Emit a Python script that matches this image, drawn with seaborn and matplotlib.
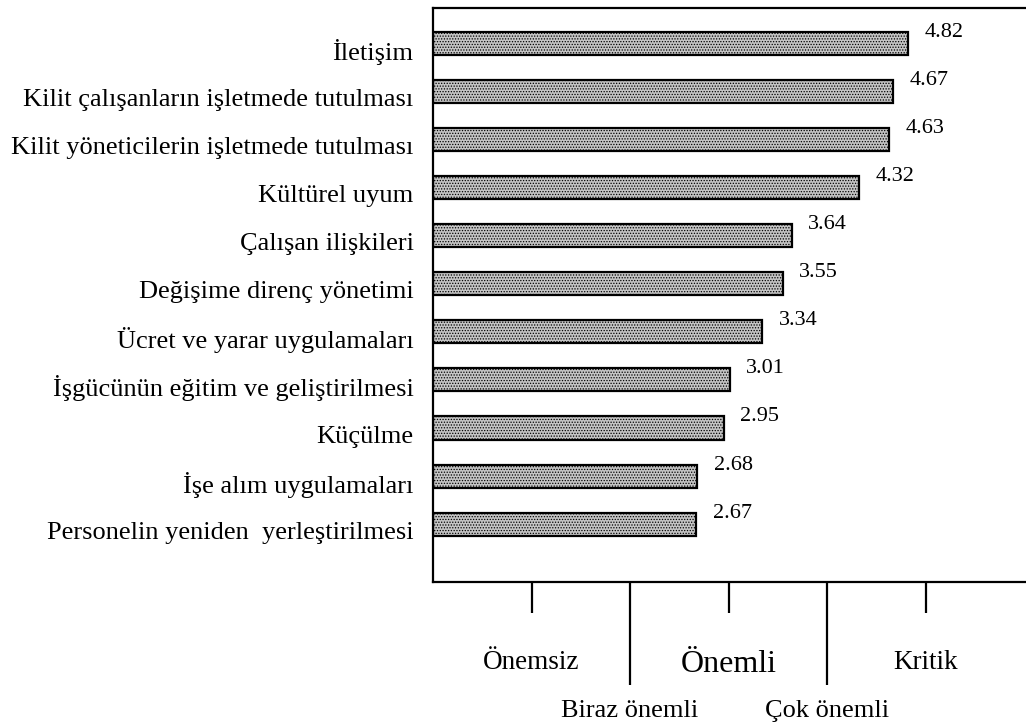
#!/usr/bin/env python3
"""Horizontal bar chart of HR issue importance scores (Turkish labels)."""

import matplotlib
matplotlib.use("Agg")
import matplotlib.pyplot as plt
import matplotlib.transforms as mtransforms
import pandas as pd
import seaborn as sns

CATEGORIES = [
    "İletişim",
    "Kilit çalışanların işletmede tutulması",
    "Kilit yöneticilerin işletmede tutulması",
    "Kültürel uyum",
    "Çalışan ilişkileri",
    "Değişime direnç yönetimi",
    "Ücret ve yarar uygulamaları",
    "İşgücünün eğitim ve geliştirilmesi",
    "Küçülme",
    "İşe alım uygulamaları",
    "Personelin yeniden  yerleştirilmesi",
]
SCORES = [4.82, 4.67, 4.63, 4.32, 3.64, 3.55, 3.34, 3.01, 2.95, 2.68, 2.67]
SCALE_TOP = [1, 3, 5]
SCALE_TOP_LABELS = ["Önemsiz", "Önemli", "Kritik"]
SCALE_LOW = [2, 4]
SCALE_LOW_LABELS = ["Biraz önemli", "Çok önemli"]


def main() -> None:
    sns.set_theme(style="white")
    plt.rcParams["font.family"] = ["Liberation Serif", "DejaVu Serif"]
    plt.rcParams["text.color"] = "black"
    plt.rcParams["xtick.labelcolor"] = "black"
    plt.rcParams["ytick.labelcolor"] = "black"
    plt.rcParams["hatch.color"] = "#7a7a7a"
    plt.rcParams["hatch.linewidth"] = 0.6

    df = pd.DataFrame({"item": CATEGORIES, "score": SCORES})

    fig = plt.figure(figsize=(10.26, 7.26), dpi=100)
    ax = fig.add_axes([433 / 1026, 1 - 582 / 726, 1 - 433 / 1026, (582 - 8) / 726])

    sns.barplot(
        data=df,
        x="score",
        y="item",
        orient="h",
        color="#c4c4c4",
        edgecolor="black",
        linewidth=1.6,
        width=0.48,
        ax=ax,
    )
    for patch in ax.patches:
        patch.set_hatch("......")

    for i, v in enumerate(SCORES):
        ax.annotate(
            f"{v:.2f}",
            xy=(v, i),
            xytext=(12, 8),
            textcoords="offset points",
            ha="left",
            va="center",
            fontsize=16,
            color="black",
        )

    ax.set_xlim(0, 6.02)
    ax.set_ylim(len(CATEGORIES) - 1 + 1.2, -0.73)
    ax.set_xlabel("")
    ax.set_ylabel("")

    for side in ("top", "bottom", "left"):
        ax.spines[side].set_visible(True)
        ax.spines[side].set_color("black")
        ax.spines[side].set_linewidth(1.6)
    ax.spines["right"].set_visible(False)

    ax.tick_params(axis="y", length=0, pad=14, labelsize=19, labelcolor="black")
    offset = mtransforms.ScaledTranslation(0, -6 / 100, fig.dpi_scale_trans)
    for lbl in ax.get_yticklabels():
        lbl.set_transform(lbl.get_transform() + offset)

    ax.set_xticks(SCALE_TOP)
    ax.set_xticklabels(SCALE_TOP_LABELS)
    ax.set_xticks(SCALE_LOW, minor=True)
    ax.set_xticklabels(SCALE_LOW_LABELS, minor=True)
    ax.tick_params(axis="x", which="major", direction="out", length=22, width=1.6,
                   pad=27, labelsize=19.5, bottom=True, color="black", labelcolor="black")
    ax.tick_params(axis="x", which="minor", direction="out", length=74, width=1.6,
                   pad=11, labelsize=19, bottom=True, color="black", labelcolor="black")
    ax.get_xticklabels()[1].set_fontsize(23)

    fig.savefig("out.png", dpi=100)
    plt.close(fig)


if __name__ == "__main__":
    main()
